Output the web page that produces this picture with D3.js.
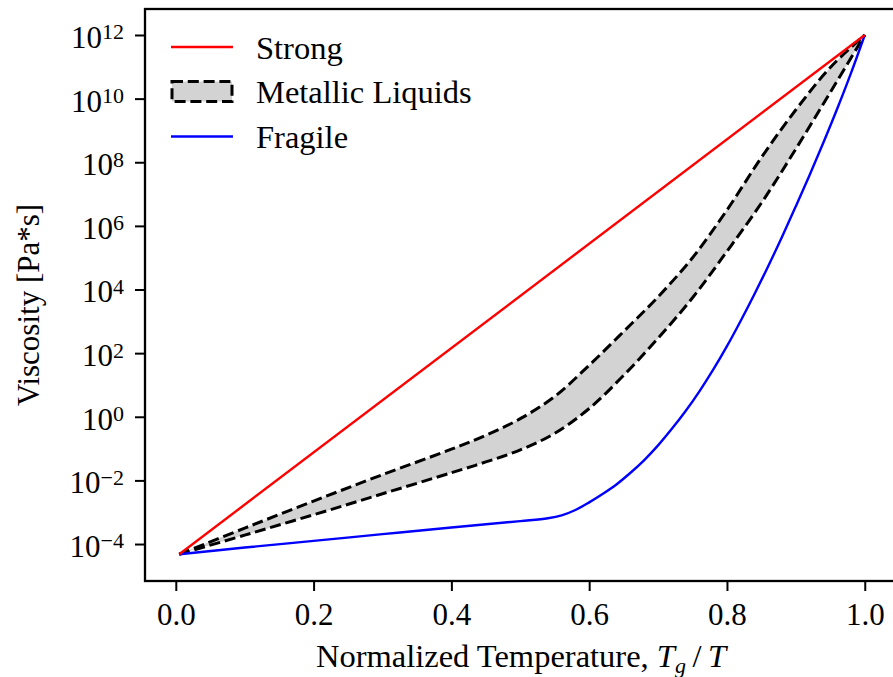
<!DOCTYPE html>
<html>
<head>
<meta charset="utf-8">
<script src="https://cdn.jsdelivr.net/npm/d3@7"></script>
<style>
  html, body { margin: 0; padding: 0; background: #ffffff; }
  svg { display: block; font-family: "Liberation Serif", "DejaVu Serif", serif; }
</style>
</head>
<body>
<svg id="chart" width="893" height="677"></svg>
<script>
// ---- data (x = Tg/T, values = log10 of viscosity in Pa*s) ----
const strongX = [0.005, 1.0];
const strongLog = [-4.32, 12.0];

const fragileX = [0.005, 0.1, 0.2, 0.3, 0.4, 0.5, 0.54, 0.56, 0.58, 0.6, 0.62, 0.64, 0.66, 0.68, 0.70,
                  0.72, 0.74, 0.76, 0.78, 0.80, 0.82, 0.84, 0.86, 0.88, 0.90, 0.92, 0.94, 0.96, 0.98, 1.0];
const fragileLog = [-4.32, -4.11, -3.90, -3.69, -3.48, -3.28, -3.19, -3.10, -2.93, -2.69, -2.42, -2.12, -1.76, -1.36, -0.90,
                    -0.38, 0.18, 0.80, 1.48, 2.22, 3.02, 3.86, 4.74, 5.66, 6.62, 7.60, 8.62, 9.68, 10.80, 12.0];

const metalX = [0.005, 0.1, 0.2, 0.3, 0.4, 0.45, 0.5, 0.55, 0.6, 0.65, 0.7, 0.75, 0.8, 0.85, 0.9, 0.95, 1.0];
const metalUpperLog = [-4.32, -3.50, -2.65, -1.82, -1.02, -0.58, -0.06, 0.64, 1.62, 2.68, 3.77, 5.00, 6.50, 8.15, 9.65, 10.98, 12.0];
const metalLowerLog = [-4.32, -3.72, -3.08, -2.42, -1.76, -1.42, -1.04, -0.52, 0.26, 1.30, 2.47, 3.74, 5.20, 6.72, 8.42, 10.20, 12.0];

const xTicks = [0.0, 0.2, 0.4, 0.6, 0.8, 1.0];
const yTickExps = [-4, -2, 0, 2, 4, 6, 8, 10, 12];

const legendLabels = ["Strong", "Metallic Liquids", "Fragile"];
const colors = { strong: "#ff0000", fragile: "#0000ff", fill: "#d3d3d3", edge: "#000000" };

// ---- layout ----
const svg = d3.select("#chart");
const L = 145, R = 899, T = 9, B = 581;

const x = d3.scaleLinear().domain([-0.0447, 1.0497]).range([L, R]);
const y = d3.scaleLog().domain([Math.pow(10, -5.162), Math.pow(10, 12.817)]).range([B, T]);

const toPts = (xs, logs) => xs.map((v, i) => ({ x: v, v: Math.pow(10, logs[i]) }));
const strong = toPts(strongX, strongLog);
const fragile = toPts(fragileX, fragileLog);
const metal = metalX.map((v, i) => ({ x: v, lo: Math.pow(10, metalLowerLog[i]), hi: Math.pow(10, metalUpperLog[i]) }));

svg.append("defs").append("clipPath").attr("id", "clip")
  .append("rect").attr("x", L).attr("y", T).attr("width", R - L).attr("height", B - T);

const plot = svg.append("g").attr("clip-path", "url(#clip)");
const curve = d3.curveCatmullRom.alpha(0.5);

const line = d3.line().x(d => x(d.x)).y(d => y(d.v)).curve(curve);

// metallic liquids band
const area = d3.area().x(d => x(d.x)).y0(d => y(d.lo)).y1(d => y(d.hi)).curve(curve);
plot.append("path").datum(metal).attr("d", area)
  .attr("fill", colors.fill).attr("stroke", "none");
const upperLine = d3.line().x(d => x(d.x)).y(d => y(d.hi)).curve(curve);
const lowerLine = d3.line().x(d => x(d.x)).y(d => y(d.lo)).curve(curve);
[upperLine, lowerLine].forEach(g => {
  plot.append("path").datum(metal).attr("d", g)
    .attr("fill", "none").attr("stroke", colors.edge).attr("stroke-width", 3)
    .attr("stroke-dasharray", "11,4.8");
});

plot.append("path").datum(fragile).attr("d", line)
  .attr("fill", "none").attr("stroke", colors.fragile).attr("stroke-width", 2.4);
plot.append("path").datum(strong).attr("d", line)
  .attr("fill", "none").attr("stroke", colors.strong).attr("stroke-width", 2.4);

// ---- axes ----
const xAxis = d3.axisBottom(x).tickValues(xTicks).tickSize(10).tickPadding(12).tickFormat(d3.format(".1f"));
const gx = svg.append("g").attr("transform", `translate(0,${B})`).call(xAxis);
gx.select(".domain").remove();
gx.selectAll(".tick line").attr("stroke", "#000").attr("stroke-width", 2);
gx.selectAll(".tick text").attr("font-family", "Liberation Serif").attr("font-size", 31)
  .attr("fill", "#000").attr("y", 22).attr("dy", "0.71em");

const yAxis = d3.axisLeft(y).tickValues(yTickExps.map(e => Math.pow(10, e))).tickSize(10).tickPadding(10).tickFormat("");
const gy = svg.append("g").attr("transform", `translate(${L},0)`).call(yAxis);
gy.select(".domain").remove();
gy.selectAll(".tick line").attr("stroke", "#000").attr("stroke-width", 2);
gy.selectAll(".tick text").each(function(d) {
  const t = d3.select(this);
  const e = Math.round(Math.log10(d));
  t.text(null).attr("font-family", "Liberation Serif").attr("fill", "#000")
    .attr("x", -21).attr("dy", null).attr("y", 12.4).attr("text-anchor", "end");
  t.append("tspan").attr("font-size", 31).text("10");
  t.append("tspan").attr("font-size", 22).attr("dy", -8.5)
    .text(e < 0 ? "\u2212" + Math.abs(e) : String(e));
});

// frame (spines)
svg.append("rect").attr("x", L).attr("y", T).attr("width", R - L).attr("height", B - T)
  .attr("fill", "none").attr("stroke", "#000").attr("stroke-width", 2.3);

// axis labels
const xl = svg.append("text").attr("x", 521).attr("y", 667).attr("text-anchor", "middle")
  .attr("font-size", 32.5).attr("fill", "#000");
xl.append("tspan").text("Normalized Temperature, ");
xl.append("tspan").attr("font-style", "italic").text("T");
xl.append("tspan").attr("font-style", "italic").attr("font-size", 22).attr("dy", 6).text("g");
xl.append("tspan").attr("dy", -6).text("\u2009/\u2009");
xl.append("tspan").attr("font-style", "italic").text("T");

svg.append("text").attr("transform", "translate(39,305) rotate(-90)")
  .attr("text-anchor", "middle").attr("font-size", 31).attr("fill", "#000")
  .text("Viscosity [Pa*s]");

// ---- legend ----
const lg = svg.append("g");
const rowsY = [47, 91.5, 136.5];
lg.append("line").attr("x1", 171).attr("x2", 233).attr("y1", rowsY[0]).attr("y2", rowsY[0])
  .attr("stroke", colors.strong).attr("stroke-width", 2.4);
lg.append("rect").attr("x", 172).attr("y", rowsY[1] - 10).attr("width", 60).attr("height", 20)
  .attr("fill", colors.fill).attr("stroke", colors.edge).attr("stroke-width", 3)
  .attr("stroke-dasharray", "11,4.8");
lg.append("line").attr("x1", 171).attr("x2", 233).attr("y1", rowsY[2]).attr("y2", rowsY[2])
  .attr("stroke", colors.fragile).attr("stroke-width", 2.4);
legendLabels.forEach((s, i) => {
  lg.append("text").attr("x", 256).attr("y", rowsY[i] + 11.5).attr("font-size", 32.5)
    .attr("fill", "#000").text(s);
});
</script>
</body>
</html>
